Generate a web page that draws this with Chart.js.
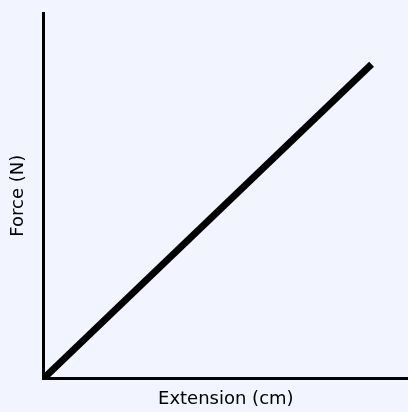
<!DOCTYPE html>
<html>
<head>
<meta charset="utf-8">
<script src="https://cdn.jsdelivr.net/npm/chart.js@4"></script>
<style>
  html, body { margin: 0; padding: 0; background: #f2f5ff; }
  #wrap { width: 408px; height: 412px; }
</style>
</head>
<body>
<div id="wrap"><canvas id="chart"></canvas></div>
<script>
const extension = [0, 9];
const force = [0, 8.6];
const xLabel = 'Extension (cm)';
const yLabel = 'Force (N)';

const labelFont = { family: "'Comic Sans MS', 'DejaVu Sans', sans-serif", size: 18 };

new Chart(document.getElementById('chart'), {
  type: 'line',
  data: {
    datasets: [{
      data: extension.map((x, i) => ({ x: x, y: force[i] })),
      borderColor: '#000',
      borderWidth: 7,
      pointRadius: 0,
      fill: false
    }]
  },
  options: {
    responsive: true,
    maintainAspectRatio: false,
    animation: false,
    layout: { padding: { left: 8, top: 13, right: 0, bottom: 2 } },
    plugins: { legend: { display: false }, tooltip: { enabled: false } },
    scales: {
      x: {
        type: 'linear',
        min: 0,
        max: 10,
        grid: { display: false },
        ticks: { display: false },
        border: { display: true, color: '#000', width: 3 },
        title: { display: true, text: xLabel, color: '#000', font: labelFont, padding: { top: 2, bottom: 0 } }
      },
      y: {
        min: 0,
        max: 10,
        grid: { display: false },
        ticks: { display: false },
        border: { display: true, color: '#000', width: 3 },
        title: { display: true, text: yLabel, color: '#000', font: labelFont, padding: { top: 0, bottom: 6 } }
      }
    }
  }
});
</script>
</body>
</html>
